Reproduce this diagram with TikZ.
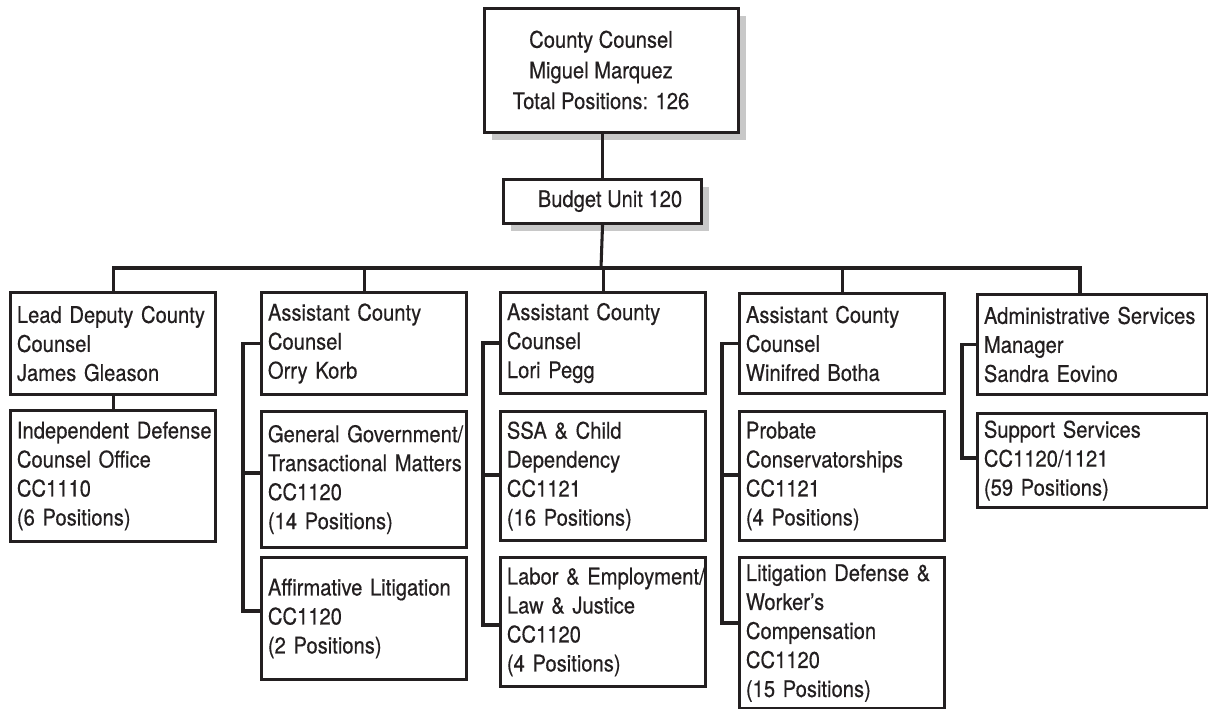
\documentclass[tikz,border=0pt]{standalone}
\usepackage{fontspec}
\setmainfont{TeX Gyre Heros}[FakeStretch=0.88, FakeBold=0.35]
\usetikzlibrary{shadows}
\definecolor{ink}{HTML}{231F20}
\definecolor{shade}{HTML}{C8C8C8}
% keep every printed line whole: no hyphenation, no overfull warnings
\hyphenpenalty=10000
\exhyphenpenalty=10000
\hbadness=10000
\hfuzz=30pt
\begin{document}
\begin{tikzpicture}[x=0.75pt, y=-0.75pt,
  every node/.style={text=ink},
  txt/.style={font=\fontsize{17.2}{21.75}\selectfont},
  toptxt/.style={font=\fontsize{17.2}{23}\selectfont},
  box/.style={draw=ink, line width=2.3pt, fill=white, anchor=north west,
    inner xsep=4.8pt, inner ysep=0pt, align=left, txt},
  narrow/.style={box, text width=144.15pt},
  wide/.style={box, text width=162.9pt},
  tall/.style={minimum height=#1*0.75pt},
  plainbox/.style={draw=ink, line width=2.3pt, fill=white, anchor=north west, inner sep=0pt},
  lifted/.style={drop shadow={shadow xshift=5.25pt, shadow yshift=-5.25pt, fill=shade, opacity=1}},
  link/.style={draw=ink, line width=2.3pt}
]
\useasboundingbox (0,0) rectangle (1208,709);

% head of the department
\node[plainbox, lifted, minimum width=190.5pt, minimum height=93pt] (top) at (483,7) {};
\node[toptxt, align=center] (top-label) at (601,70)
  {County Counsel\\Miguel Marquez\\Total Positions: 126};

\node[plainbox, lifted, minimum width=148.5pt, minimum height=33pt] (budget) at (502,178) {};
\node[txt, anchor=base] (budget-label) at (610,207) {Budget Unit 120};

% column 1
\node[narrow, tall=102] (lead) at (9,291) {Lead Deputy~County\\Counsel\\James Gleason};
\node[narrow, tall=131] (idco) at (9,409) {Independent~Defense\\Counsel Office\\CC1110\\(6 Positions)};
% column 2
\node[narrow, tall=102] (orry) at (260,291) {Assistant County\\Counsel\\Orry Korb};
\node[narrow, tall=136] (ggtm) at (260,410) {General~Government/\\Transactional~Matters\\CC1120\\(14 Positions)};
\node[narrow, tall=122] (aflit) at (260,556) {Affirmative~Litigation\\CC1120\\(2 Positions)};
% column 3
\node[narrow, tall=101] (lori) at (499,291) {Assistant County\\Counsel\\Lori Pegg};
\node[narrow, tall=129] (ssa) at (499,410) {SSA \& Child\\Dependency\\CC1121\\(16 Positions)};
\node[narrow, tall=129] (labor) at (499,556) {Labor~\&~Employment/\\Law \& Justice\\CC1120\\(4 Positions)};
% column 4
\node[narrow, tall=100] (wini) at (738,292) {Assistant County\\Counsel\\Winifred Botha};
\node[narrow, tall=129] (probate) at (738,410) {Probate\\Conservatorships\\CC1121\\(4 Positions)};
\node[narrow, tall=151] (litdef) at (738,556) {Litigation~Defense~\&\\Worker’s\\Compensation\\CC1120\\(15 Positions)};
% column 5
\node[wide, tall=100] (sandra) at (976,293) {Administrative~Services\\Manager\\Sandra Eovino};
\node[wide, tall=94] (support) at (976,412) {Support Services\\CC1120/1121\\(59 Positions)};

% reporting lines
\coordinate (bus) at (601,268);
\coordinate (drop5) at (1080,0);
\draw[link] (budget.north |- top.south) -- (budget.north);
\draw[link] (budget.south) -- (bus);
\draw[link] (lead.north) |- (bus) -| (drop5 |- sandra.north);
\draw[link] (orry.north) -- (orry.north |- bus);
\draw[link] (lori.north) -- (lori.north |- bus);
\draw[link] (wini.north) -- (wini.north |- bus);
\draw[link] (lead.south) -- (idco.north);

% brackets joining each manager to the units below
\coordinate (sp2) at (243,0);
\coordinate (sp3) at (483,0);
\coordinate (sp4) at (722,0);
\coordinate (sp5) at (962,0);
\coordinate (t2b) at (0,473); \coordinate (t2c) at (0,611);
\coordinate (t3b) at (0,475); \coordinate (t3c) at (0,625);
\coordinate (t4b) at (0,475); \coordinate (t4c) at (0,623);
\coordinate (t5b) at (0,458);

\draw[link] (orry.west) -- (orry.west -| sp2) |- (aflit.west |- t2c);
\draw[link] (sp2 |- t2b) -- (ggtm.west |- t2b);

\draw[link] (lori.west) -- (lori.west -| sp3) |- (labor.west |- t3c);
\draw[link] (sp3 |- t3b) -- (ssa.west |- t3b);

\draw[link] (wini.west) -- (wini.west -| sp4) |- (litdef.west |- t4c);
\draw[link] (sp4 |- t4b) -- (probate.west |- t4b);

\draw[link] (sandra.west) -- (sandra.west -| sp5) |- (support.west |- t5b);
\end{tikzpicture}
\end{document}
